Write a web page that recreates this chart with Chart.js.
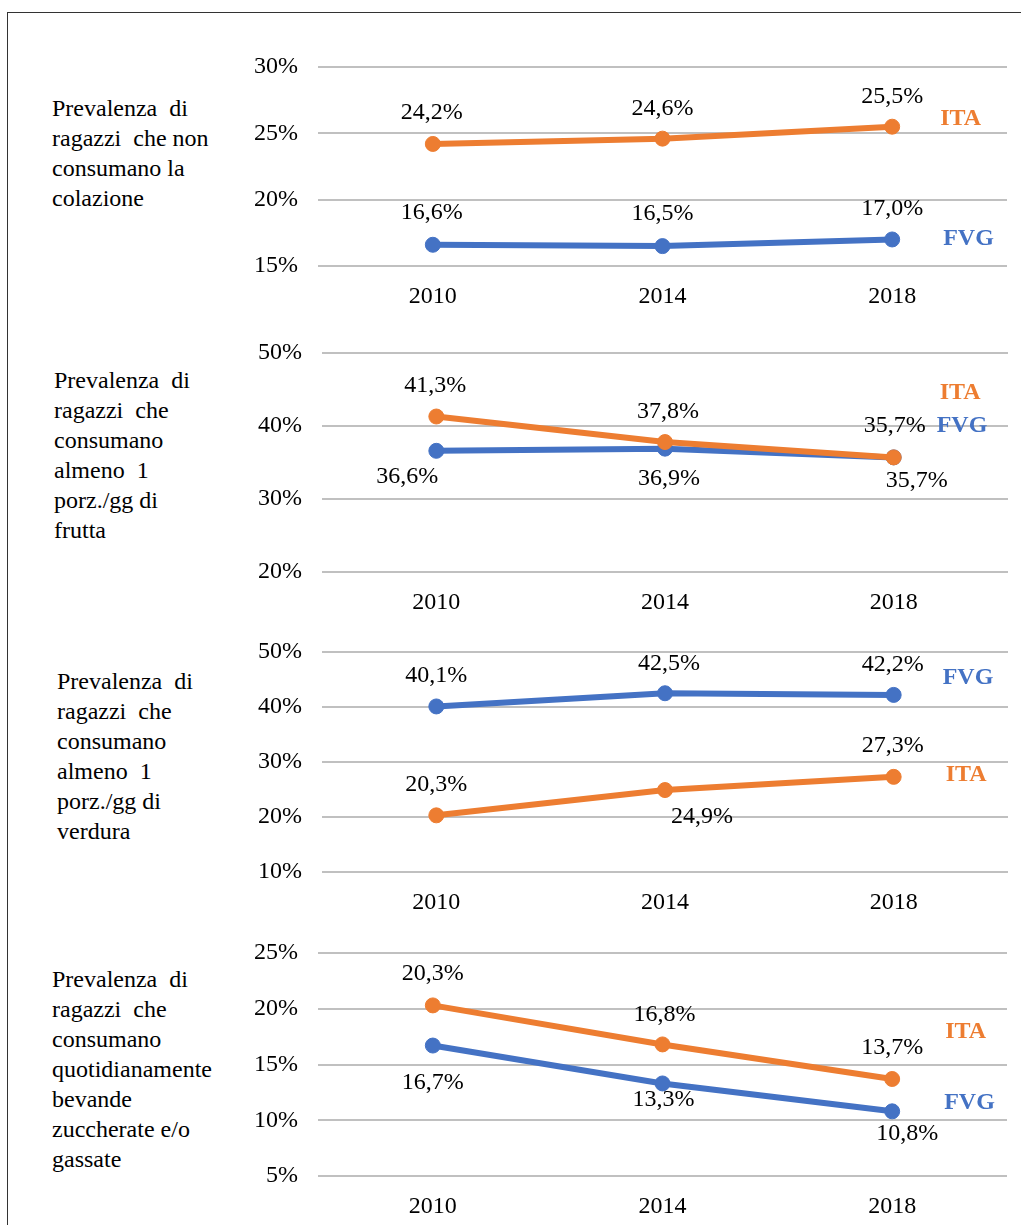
<!DOCTYPE html>
<html lang="it">
<head>
    <meta charset="UTF-8">
    <title>Abitudini alimentari FVG / ITA</title>
    <script src="https://cdn.jsdelivr.net/npm/chart.js"></script>
    <style>
        html, body {
            margin: 0;
            width: 1021px;
            height: 1225px;
            overflow: hidden;
            background: #fff;
            font-family: "Liberation Serif", "Times New Roman", serif;
            color: #000;
        }
        .cornice {
            position: absolute;
            left: 7px;
            top: 12px;
            width: 1100px;
            height: 1300px;
            border: 1px solid #333;
        }
        .titolo {
            position: absolute;
            font-size: 24px;
            line-height: 30px;
            white-space: pre;
        }
        canvas {
            position: absolute;
        }
    </style>
</head>
<body>
    <div class="cornice"></div>
    <div id="contenitore"></div>

    <script>
        const anni = ['2010', '2014', '2018'];

        const colazioneITA = [24.2, 24.6, 25.5];
        const colazioneFVG = [16.6, 16.5, 17.0];
        const fruttaITA = [41.3, 37.8, 35.7];
        const fruttaFVG = [36.6, 36.9, 35.7];
        const verduraITA = [20.3, 24.9, 27.3];
        const verduraFVG = [40.1, 42.5, 42.2];
        const bevandeITA = [20.3, 16.8, 13.7];
        const bevandeFVG = [16.7, 13.3, 10.8];

        // asse y: [min, max, passo]
        const assiColazione = [15, 30, 5];
        const assiFrutta = [20, 50, 10];
        const assiVerdura = [10, 50, 10];
        const assiBevande = [5, 25, 5];

        const ARANCIO = '#ED7D31';
        const BLU = '#4472C4';
        const FONT = '"Liberation Serif", "Times New Roman", serif';
        const MARGINE_SU = 35;   // spazio sopra l'area del grafico (metà etichetta + padding tick)
        const ASSE_X = 50;       // altezza riservata alle etichette degli anni

        const pannelli = [
            {
                testo: ['Prevalenza  di', 'ragazzi  che non', 'consumano la', 'colazione'],
                testoX: 52, testoY: 93,
                griglia: 67, altezza: 199, asseY: 78, destra: 14,
                assi: assiColazione,
                ita: colazioneITA, fvg: colazioneFVG,
                posITA: [[-1, -31], [0, -30], [0, -30]],
                posFVG: [[-1, -32], [0, -32], [0, -31]],
                nomeITA: [48, -8], nomeFVG: [51, -1]
            },
            {
                testo: ['Prevalenza  di', 'ragazzi  che', 'consumano', 'almeno  1', 'porz./gg di', 'frutta'],
                testoX: 54, testoY: 365,
                griglia: 353, altezza: 219, asseY: 82, destra: 13,
                assi: assiFrutta,
                ita: fruttaITA, fvg: fruttaFVG,
                posITA: [[-1, -31], [3, -30], [1, -32]],
                posFVG: [[-29, 26], [4, 30], [23, 23]],
                nomeITA: [46, -65], nomeFVG: [43, -32]
            },
            {
                testo: ['Prevalenza  di', 'ragazzi  che', 'consumano', 'almeno  1', 'porz./gg di', 'verdura'],
                testoX: 57, testoY: 666,
                griglia: 652, altezza: 220, asseY: 82, destra: 13,
                assi: assiVerdura,
                ita: verduraITA, fvg: verduraFVG,
                posITA: [[0, -31], [37, 27], [-1, -31]],
                posFVG: [[0, -31], [4, -30], [-1, -30]],
                nomeITA: [52, -2], nomeFVG: [49, -17]
            },
            {
                testo: ['Prevalenza  di', 'ragazzi  che', 'consumano', 'quotidianamente', 'bevande', 'zuccherate e/o', 'gassate'],
                testoX: 52, testoY: 964,
                griglia: 953, altezza: 223, asseY: 78, destra: 14,
                assi: assiBevande,
                ita: bevandeITA, fvg: bevandeFVG,
                posITA: [[0, -32], [2, -30], [0, -31]],
                posFVG: [[0, 37], [1, 16], [15, 22]],
                nomeITA: [53, -47], nomeFVG: [52, -9]
            }
        ];

        const formato = v => v.toFixed(1).replace('.', ',') + '%';

        // etichette dei valori e nome della serie accanto all'ultimo punto
        function etichette(p) {
            return {
                id: 'etichette',
                afterDatasetsDraw(chart) {
                    const ctx = chart.ctx;
                    const pos = [p.posITA, p.posFVG];
                    const nomi = [p.nomeITA, p.nomeFVG];
                    ctx.save();
                    ctx.textBaseline = 'middle';
                    chart.data.datasets.forEach((ds, i) => {
                        const punti = chart.getDatasetMeta(i).data;
                        ctx.font = '24px ' + FONT;
                        ctx.textAlign = 'center';
                        ctx.fillStyle = '#000';
                        punti.forEach((pt, j) => {
                            ctx.fillText(formato(ds.data[j]), pt.x + pos[i][j][0], pt.y + pos[i][j][1]);
                        });
                        const ultimo = punti[punti.length - 1];
                        ctx.font = 'bold 24px ' + FONT;
                        ctx.textAlign = 'left';
                        ctx.fillStyle = ds.borderColor;
                        ctx.fillText(ds.label, ultimo.x + nomi[i][0], ultimo.y + nomi[i][1]);
                    });
                    ctx.restore();
                }
            };
        }

        const contenitore = document.getElementById('contenitore');

        pannelli.forEach(p => {
            const div = document.createElement('div');
            div.className = 'titolo';
            div.style.left = p.testoX + 'px';
            div.style.top = p.testoY + 'px';
            div.textContent = p.testo.join('\n');
            contenitore.appendChild(div);

            const canvas = document.createElement('canvas');
            canvas.width = 781;
            canvas.height = MARGINE_SU + p.altezza + ASSE_X;
            canvas.style.left = '240px';
            canvas.style.top = (p.griglia - MARGINE_SU) + 'px';
            contenitore.appendChild(canvas);

            const serie = (label, data, colore) => ({
                label: label,
                data: data,
                borderColor: colore,
                backgroundColor: colore,
                pointBackgroundColor: colore,
                pointBorderColor: colore,
                borderWidth: 6,
                pointRadius: 7.5,
                pointBorderWidth: 1,
                tension: 0,
                clip: false
            });

            new Chart(canvas.getContext('2d'), {
                type: 'line',
                data: {
                    labels: anni,
                    datasets: [
                        serie('ITA', p.ita, ARANCIO),
                        serie('FVG', p.fvg, BLU)
                    ]
                },
                options: {
                    responsive: false,
                    animation: false,
                    layout: { padding: { top: MARGINE_SU, right: p.destra, left: 0, bottom: 0 } },
                    plugins: {
                        legend: { display: false },
                        tooltip: { enabled: false }
                    },
                    scales: {
                        x: {
                            offset: true,
                            grid: { display: false, drawTicks: false },
                            border: { display: false },
                            ticks: { color: '#000', padding: 16, font: { family: FONT, size: 24 } },
                            afterFit: s => { s.height = ASSE_X; }
                        },
                        y: {
                            min: p.assi[0],
                            max: p.assi[1],
                            grid: { color: '#c0c0c0', lineWidth: 2, drawTicks: false },
                            border: { display: false },
                            ticks: {
                                stepSize: p.assi[2],
                                padding: 20,
                                color: '#000',
                                font: { family: FONT, size: 24 },
                                callback: v => v + '%'
                            },
                            afterFit: s => { s.width = p.asseY; }
                        }
                    }
                },
                plugins: [etichette(p)]
            });
        });
    </script>
</body>
</html>
